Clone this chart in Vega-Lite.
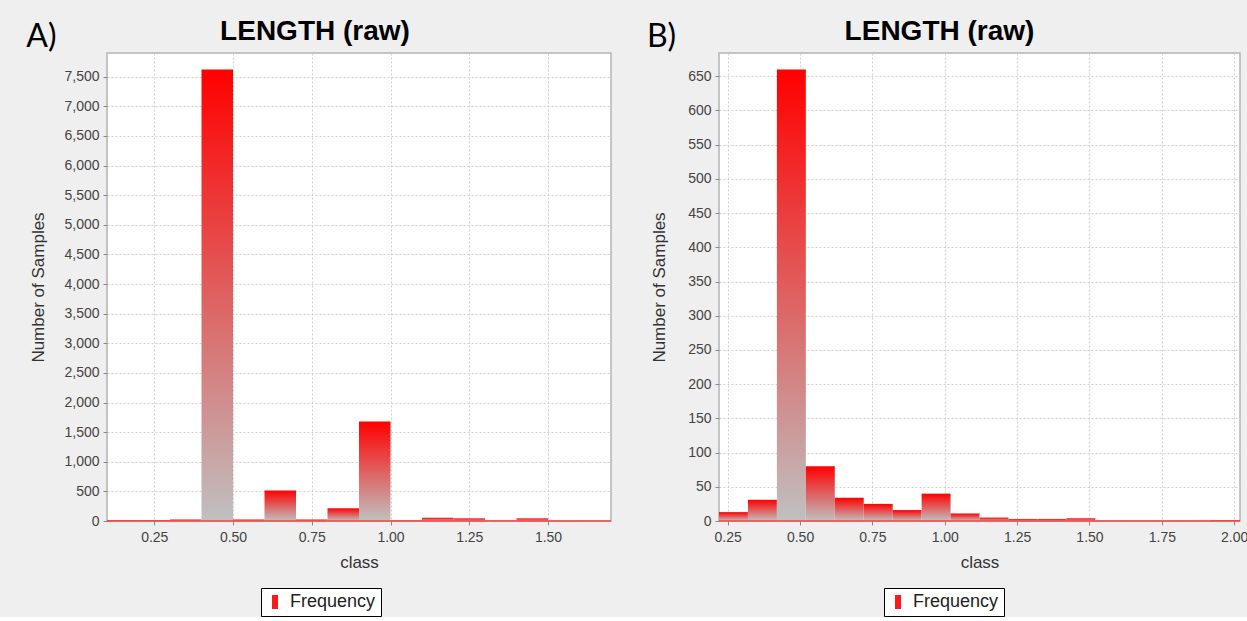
{
  "$schema": "https://vega.github.io/schema/vega-lite/v6.json",
  "background": "#efefef",
  "padding": {"left": 26, "top": 17, "right": 0, "bottom": 0},
  "spacing": 33,
  "datasets": {
    "panelA": [
      {"bin_start": 0.1, "bin_end": 0.2, "count": 15},
      {"bin_start": 0.2, "bin_end": 0.3, "count": 10},
      {"bin_start": 0.3, "bin_end": 0.4, "count": 25},
      {"bin_start": 0.4, "bin_end": 0.5, "count": 7620},
      {"bin_start": 0.5, "bin_end": 0.6, "count": 25},
      {"bin_start": 0.6, "bin_end": 0.7, "count": 515},
      {"bin_start": 0.7, "bin_end": 0.8, "count": 25},
      {"bin_start": 0.8, "bin_end": 0.9, "count": 215},
      {"bin_start": 0.9, "bin_end": 1.0, "count": 1680},
      {"bin_start": 1.0, "bin_end": 1.1, "count": 5},
      {"bin_start": 1.1, "bin_end": 1.2, "count": 55},
      {"bin_start": 1.2, "bin_end": 1.3, "count": 45},
      {"bin_start": 1.3, "bin_end": 1.4, "count": 2},
      {"bin_start": 1.4, "bin_end": 1.5, "count": 45},
      {"bin_start": 1.5, "bin_end": 1.6, "count": 0},
      {"bin_start": 1.6, "bin_end": 1.7, "count": 0}
    ],
    "panelB": [
      {"bin_start": 0.22, "bin_end": 0.32, "count": 13},
      {"bin_start": 0.32, "bin_end": 0.42, "count": 31},
      {"bin_start": 0.42, "bin_end": 0.52, "count": 660},
      {"bin_start": 0.52, "bin_end": 0.62, "count": 80},
      {"bin_start": 0.62, "bin_end": 0.72, "count": 34},
      {"bin_start": 0.72, "bin_end": 0.82, "count": 25},
      {"bin_start": 0.82, "bin_end": 0.92, "count": 16},
      {"bin_start": 0.92, "bin_end": 1.02, "count": 40},
      {"bin_start": 1.02, "bin_end": 1.12, "count": 11},
      {"bin_start": 1.12, "bin_end": 1.22, "count": 5},
      {"bin_start": 1.22, "bin_end": 1.32, "count": 3},
      {"bin_start": 1.32, "bin_end": 1.42, "count": 3},
      {"bin_start": 1.42, "bin_end": 1.52, "count": 4},
      {"bin_start": 1.52, "bin_end": 1.62, "count": 0},
      {"bin_start": 1.62, "bin_end": 1.72, "count": 0},
      {"bin_start": 1.72, "bin_end": 1.82, "count": 0},
      {"bin_start": 1.82, "bin_end": 1.92, "count": 0},
      {"bin_start": 1.92, "bin_end": 2.02, "count": 1}
    ]
  },
  "resolve": {"scale": {"color": "independent"}, "legend": {"color": "independent"}},
  "hconcat": [
    {
      "title": {"text": "A)", "anchor": "start", "frame": "bounds", "fontSize": 32, "font": "Lato", "fontWeight": "normal", "offset": 0, "dy": 37, "dx": -3},
      "vconcat": [
        {
          "data": {"name": "panelA"},
          "width": 504,
          "height": 468,
          "title": {"text": "LENGTH (raw)", "dx": -44},
          "encoding": {
            "x": {"field": "bin_start", "type": "quantitative", "scale": {"domain": [0.1, 1.7], "nice": false, "zero": false},
                  "axis": {"values": [0.25, 0.5, 0.75, 1, 1.25, 1.5], "format": ".2f", "title": "class"}},
            "x2": {"field": "bin_end"}
          },
          "layer": [
            {
              "mark": {"type": "rect", "color": {"gradient": "linear", "x1": 0, "y1": 0, "x2": 0, "y2": 1, "stops": [{"offset": 0, "color": "#ff0000"}, {"offset": 1, "color": "#c0c0c0"}]}},
              "encoding": {
                "y": {"field": "count", "type": "quantitative", "scale": {"domain": [0, 7900], "nice": false},
                      "axis": {"values": [0, 500, 1000, 1500, 2000, 2500, 3000, 3500, 4000, 4500, 5000, 5500, 6000, 6500, 7000, 7500], "format": ",.0f", "title": "Number of Samples"}},
                "y2": {"datum": 0}
              }
            },
            {
              "mark": {"type": "rect", "stroke": "#ff4040", "strokeWidth": 1},
              "encoding": {
                "y": {"datum": 0, "type": "quantitative",
                      "axis": {"values": [0, 500, 1000, 1500, 2000, 2500, 3000, 3500, 4000, 4500, 5000, 5500, 6000, 6500, 7000, 7500], "format": ",.0f", "title": "Number of Samples"}},
                "y2": {"datum": 0},
                "color": {"datum": "Frequency", "type": "nominal", "scale": {"range": ["#ff1a1a"]},
                          "legend": {"orient": "none", "legendX": 154, "legendY": 535, "title": null}}
              }
            }
          ]
        }
      ]
    },
    {
      "title": {"text": "B)", "anchor": "start", "frame": "bounds", "fontSize": 32, "font": "Lato", "fontWeight": "normal", "offset": 0, "dy": 37, "dx": -3},
      "vconcat": [
        {
          "data": {"name": "panelB"},
          "width": 521,
          "height": 468,
          "title": {"text": "LENGTH (raw)", "dx": -40},
          "encoding": {
            "x": {"field": "bin_start", "type": "quantitative", "scale": {"domain": [0.22, 2.02], "nice": false, "zero": false},
                  "axis": {"values": [0.25, 0.5, 0.75, 1, 1.25, 1.5, 1.75, 2], "format": ".2f", "title": "class"}},
            "x2": {"field": "bin_end"}
          },
          "layer": [
            {
              "mark": {"type": "rect", "color": {"gradient": "linear", "x1": 0, "y1": 0, "x2": 0, "y2": 1, "stops": [{"offset": 0, "color": "#ff0000"}, {"offset": 1, "color": "#c0c0c0"}]}},
              "encoding": {
                "y": {"field": "count", "type": "quantitative", "scale": {"domain": [0, 684], "nice": false},
                      "axis": {"values": [0, 50, 100, 150, 200, 250, 300, 350, 400, 450, 500, 550, 600, 650], "format": ",.0f", "title": "Number of Samples", "titlePadding": 19}},
                "y2": {"datum": 0}
              }
            },
            {
              "mark": {"type": "rect", "stroke": "#ff4040", "strokeWidth": 1},
              "encoding": {
                "y": {"datum": 0, "type": "quantitative",
                      "axis": {"values": [0, 50, 100, 150, 200, 250, 300, 350, 400, 450, 500, 550, 600, 650], "format": ",.0f", "title": "Number of Samples", "titlePadding": 19}},
                "y2": {"datum": 0},
                "color": {"datum": "Frequency", "type": "nominal", "scale": {"range": ["#ff1a1a"]},
                          "legend": {"orient": "none", "legendX": 165, "legendY": 535, "title": null}}
              }
            }
          ]
        }
      ]
    }
  ],
  "config": {
    "font": "Liberation Sans",
    "view": {"stroke": "#b4b4b4", "strokeWidth": 1.5, "fill": "white"},
    "axis": {
      "labelFont": "Liberation Sans", "labelFontSize": 14, "labelColor": "#444444",
      "titleFont": "Liberation Sans", "titleFontSize": 17, "titleFontWeight": "normal", "titleColor": "#333333",
      "grid": true, "gridColor": "#cfcfcf", "gridDash": [2, 2], "gridWidth": 1,
      "domain": false, "tickColor": "#888888", "tickSize": 4, "labelPadding": 4
    },
    "axisX": {"titlePadding": 10, "labelPadding": 5},
    "axisY": {"titlePadding": 16},
    "title": {"font": "Liberation Sans", "fontSize": 28, "fontWeight": "bold", "color": "#000000", "offset": 7},
    "legend": {
      "labelFont": "Liberation Sans", "labelFontSize": 18, "labelColor": "#222222",
      "fillColor": "white", "strokeColor": "#000000", "padding": 5, "cornerRadius": 0,
      "symbolType": "M-0.6,-1.4L0.6,-1.4L0.6,1.4L-0.6,1.4Z", "symbolSize": 100, "symbolStrokeWidth": 0, "labelOffset": 6
    }
  }
}
